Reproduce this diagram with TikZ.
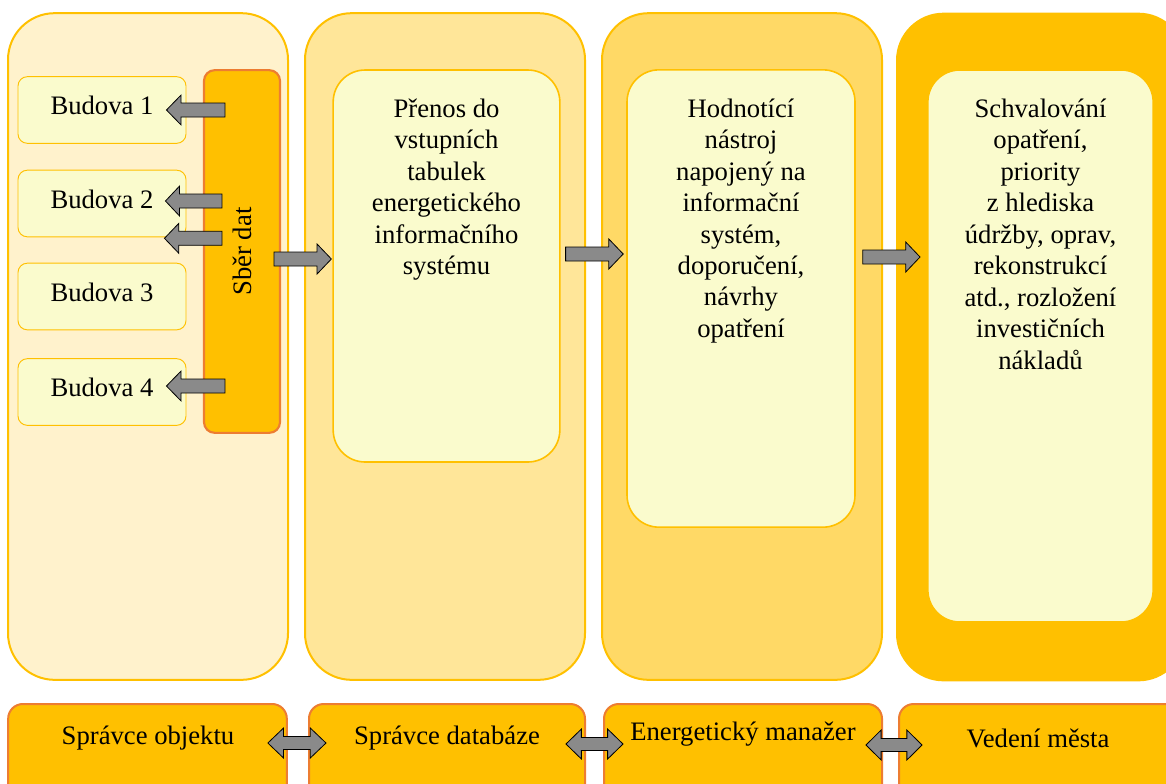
\documentclass[tikz,border=0pt]{standalone}
\usepackage{fontspec}
\setmainfont{Liberation Serif}
\usepackage{xcolor}
\usetikzlibrary{calc,positioning}

\definecolor{gold}{HTML}{FFC000}
\definecolor{rust}{HTML}{ED7D31}
\definecolor{paleA}{HTML}{FFF2CC}
\definecolor{paleB}{HTML}{FFE699}
\definecolor{paleC}{HTML}{FFD966}
\definecolor{cream}{HTML}{FAFBCD}
\definecolor{arrgray}{HTML}{8A8A8A}

% block arrow from #1 (tail) to #2 (tip)
\newcommand{\blkarrow}[2]{%
  \draw[blk] ($(#1)+(0,7)$) -- ($(#1)!0.75!(#2)+(0,7)$) -- ($(#1)!0.75!(#2)+(0,15)$)
    -- (#2) -- ($(#1)!0.75!(#2)+(0,-15)$) -- ($(#1)!0.75!(#2)+(0,-7)$)
    -- ($(#1)+(0,-7)$) -- cycle;}
% block arrow with two heads
\newcommand{\dblarrow}[2]{%
  \draw[blk] (#1) -- ($(#1)!0.27!(#2)+(0,-15)$) -- ($(#1)!0.27!(#2)+(0,-6.5)$)
    -- ($(#1)!0.73!(#2)+(0,-6.5)$) -- ($(#1)!0.73!(#2)+(0,-15)$) -- (#2)
    -- ($(#1)!0.73!(#2)+(0,15)$) -- ($(#1)!0.73!(#2)+(0,6.5)$)
    -- ($(#1)!0.27!(#2)+(0,6.5)$) -- ($(#1)!0.27!(#2)+(0,15)$) -- cycle;}

\begin{document}
\begin{tikzpicture}[x=0.75pt,y=-0.75pt,
  every node/.style={font=\fontsize{20}{23.6}\selectfont},
  column/.style={draw=gold, line width=1.5pt, rounded corners=35pt,
    minimum width=210pt, minimum height=500pt},
  inbox/.style={draw=gold, line width=1.2pt, fill=cream, rounded corners=24pt},
  bldg/.style={draw=gold, line width=0.7pt, fill=cream, rounded corners=7pt,
    minimum width=126pt, minimum height=50pt, text height=14pt, text depth=7pt},
  collect/.style={draw=rust, line width=1.6pt, fill=gold, rounded corners=8pt,
    minimum width=57pt, minimum height=272pt},
  mgr/.style={draw=rust, line width=1.5pt, fill=gold, rounded corners=11pt,
    minimum height=80pt},
  coltext/.style={align=center, inner sep=0pt, anchor=north},
  blk/.style={draw=black, line width=0.6pt, fill=arrgray, line join=miter}]
\useasboundingbox (0,0) rectangle (1166,783);
\clip (0,0) rectangle (1166,783);

% columns
\foreach \name/\cx/\colr in {c1/148/paleA, c2/445/paleB, c3/742/paleC}
  \node[column, fill=\colr] (\name) at (\cx,346.5) {};
\node[column, draw=gold, fill=gold, minimum width=216pt] (c4) at (1041,347) {};

% inner boxes
\node[inbox, minimum width=170pt, minimum height=294pt] (in2) at (446.5,266) {};
\node[inbox, minimum width=171pt, minimum height=343pt] (in3) at (741,298.5) {};
\node[inbox, minimum width=169pt, minimum height=414pt] (in4) at (1040.5,346) {};

\node[coltext, below=22pt of in2.north] (t2)
  {Přenos do\\vstupních\\tabulek\\energetického\\informačního\\systému};
\node[coltext, below=22pt of in3.north] (t3)
  {Hodnotící\\nástroj\\napojený na\\informační\\systém,\\doporučení,\\návrhy\\opatření};
\node[coltext, below=22pt of in4.north] (t4)
  {Schvalování\\opatření,\\priority\\z hlediska\\údržby, oprav,\\rekonstrukcí\\atd., rozložení\\investičních\\nákladů};

% buildings and data collection
\foreach \i/\y in {1/110, 2/203.5, 3/296.5, 4/392}
  \node[bldg] (b\i) at (102,\y) {Budova \i};
\node[collect] (sber) at (242,251.5) {};
\node[rotate=90] (sbertxt) at (sber) {Sběr dat};

% managers
\foreach \name/\cx/\w in {m1/147.5/209pt, m2/447/207pt, m3/743/208.5pt, m4/1042/214.5pt}
  \node[mgr, minimum width=\w, anchor=north] (\name) at (\cx,703) {};
\node (m1t) at (148,738) {Správce objektu};
\node (m2t) at (447,738) {Správce databáze};
\node (m3t) at (743,734) {Energetický manažer};
\node (m4t) at (1038,738) {Vedení města};

% arrow ends
\coordinate (s1) at ($(sber.west |- b1)+(22,0)$);
\coordinate (e1) at ($(b1.east)+(-20,0)$);
\coordinate (s2) at ($(sber.west |- b2)+(19,-2.5)$);
\coordinate (e2) at ($(b2.east)+(-21,-2.5)$);
\coordinate (s3) at ($(sber.west |- b2.south)+(19,1)$);
\coordinate (e3) at ($(b2.south east)+(-22,1)$);
\coordinate (s4) at ($(sber.west |- b4)+(22,-6)$);
\coordinate (e4) at ($(b4.east)+(-20,-6)$);
\coordinate (s5) at ($(sber.east)+(-7,7.5)$);
\coordinate (e5) at ($(in2.west |- s5)+(-1,0)$);
\coordinate (s6) at ($(in2.east)+(5,-12)$);
\coordinate (e6) at ($(in3.west |- s6)+(-3,0)$);
\coordinate (s7) at ($(in3.east)+(7,-41.5)$);
\coordinate (e7) at ($(in4.west |- s7)+(-7,0)$);
\foreach \a/\b in {s1/e1, s2/e2, s3/e3, s4/e4, s5/e5, s6/e6, s7/e7}
  \blkarrow{\a}{\b};

\coordinate (d1a) at ($(m1.north east)+(-20,40)$);
\coordinate (d1b) at ($(m2.north west)+(18,40)$);
\coordinate (d2a) at ($(m2.north east)+(-20,41)$);
\coordinate (d2b) at ($(m3.north west)+(20,41)$);
\coordinate (d3a) at ($(m3.north east)+(-17,42)$);
\coordinate (d3b) at ($(m4.north west)+(24,42)$);
\foreach \a/\b in {d1a/d1b, d2a/d2b, d3a/d3b}
  \dblarrow{\a}{\b};
\end{tikzpicture}
\end{document}
